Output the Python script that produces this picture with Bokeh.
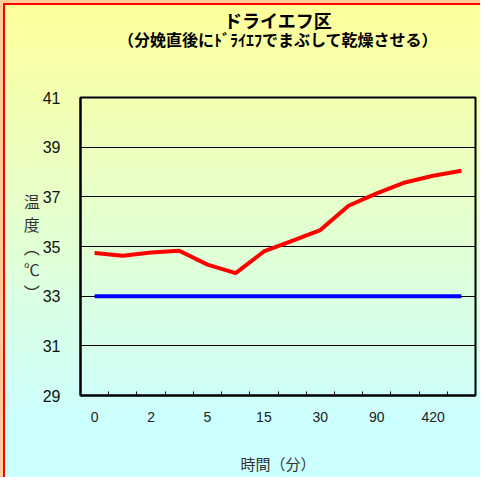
from bokeh.plotting import figure
from bokeh.models import Range1d, FixedTicker, Title
from bokeh.embed import file_html
from bokeh.resources import INLINE

# ---- data ----
title_text = "ドライエフ区"
subtitle_text = "（分娩直後にﾄﾞﾗｲｴﾌでまぶして乾燥させる）"
x_label = "時間（分）"
y_label_chars = ["温", "度", "︵", "℃", "︶"]
tick_labels = ["0", "2", "5", "15", "30", "90", "420"]
n_points = 14
temp_red = [34.74, 34.63, 34.76, 34.83, 34.27, 33.93, 34.80, 35.23, 35.66, 36.64, 37.14, 37.58, 37.85, 38.05]
temp_blue = [33.0] * n_points
y_ticks = [29, 31, 33, 35, 37, 39, 41]

xs = list(range(n_points))
label_pos = list(range(0, n_points, 2))[:len(tick_labels)]

JP = "Noto Sans CJK JP"

p = figure(width=480, height=477, output_backend="svg", toolbar_location=None,
           x_range=Range1d(-0.5, n_points - 0.5), y_range=Range1d(29, 41),
           min_border_left=80, min_border_right=5, min_border_top=0, min_border_bottom=82)
p.background_fill_alpha = 0
p.border_fill_alpha = 0
p.styles = {
    "background": "linear-gradient(to bottom, #FFFF99 0%, #CCFFFF 88%, #CCFFFF 100%)",
    "box-shadow": "inset 3px 3px 0 0 #FFCC99, inset 5px 5px 0 0 #FF0000",
}
p.outline_line_color = "black"
p.outline_line_width = 2

# lines
p.line(xs, temp_red, line_color="#FF0000", line_width=4)
p.line(xs, temp_blue, line_color="#0000FF", line_width=4)

# titles (spacer nearest the frame, then subtitle, then main title outermost)
p.title.text = title_text
p.title.align = "center"
p.title.offset = 4
p.title.text_font = JP
p.title.text_font_size = "18px"
p.title.text_font_style = "bold"
p.title.text_color = "black"
p.title.standoff = 8
p.add_layout(Title(text=" ", align="center", text_font=JP, text_font_size="10px", standoff=41), "above")
p.add_layout(Title(text=subtitle_text, align="center", offset=4, text_font=JP, text_font_size="16px",
                   text_font_style="bold", text_color="black", standoff=-23), "above")

# x axis
p.xaxis.ticker = FixedTicker(ticks=label_pos, minor_ticks=[i + 0.5 for i in range(n_points - 1)])
p.xaxis.major_label_overrides = {pos: lab for pos, lab in zip(label_pos, tick_labels)}
p.xaxis.major_tick_in = 0
p.xaxis.major_tick_out = 0
p.xaxis.minor_tick_in = 4
p.xaxis.minor_tick_out = 0
p.xaxis.minor_tick_line_color = "black"
p.xaxis.axis_line_width = 2
p.xaxis.axis_line_color = "black"
p.xaxis.major_label_standoff = 16
p.xaxis.major_label_text_font = "Liberation Sans"
p.xaxis.major_label_text_font_size = "14px"
p.xaxis.major_label_text_color = "#222222"
p.xaxis.axis_label = x_label
p.xaxis.axis_label_text_font = JP
p.xaxis.axis_label_text_font_size = "15px"
p.xaxis.axis_label_text_font_style = "normal"
p.xaxis.axis_label_text_color = "#333333"
p.xaxis.axis_label_standoff = 28
p.xgrid.visible = False

# y axis
p.yaxis.ticker = FixedTicker(ticks=y_ticks, minor_ticks=[])
p.yaxis.major_tick_in = 0
p.yaxis.major_tick_out = 0
p.yaxis.axis_line_width = 2
p.yaxis.axis_line_color = "black"
p.yaxis.major_label_standoff = 20
p.yaxis.major_label_text_font = "Liberation Sans"
p.yaxis.major_label_text_font_size = "16px"
p.yaxis.major_label_text_color = "#111111"
p.yaxis.axis_label = "\n".join(y_label_chars)
p.yaxis.axis_label_orientation = "horizontal"
p.yaxis.axis_label_text_font = JP
p.yaxis.axis_label_text_font_size = "16px"
p.yaxis.axis_label_text_font_style = "normal"
p.yaxis.axis_label_text_color = "#333333"
p.yaxis.axis_label_text_line_height = 0.95
p.yaxis.axis_label_standoff = 0
p.ygrid.ticker = FixedTicker(ticks=y_ticks)
p.ygrid.grid_line_color = "black"
p.ygrid.grid_line_width = 1

open("out.html", "w").write(file_html(p, INLINE))
